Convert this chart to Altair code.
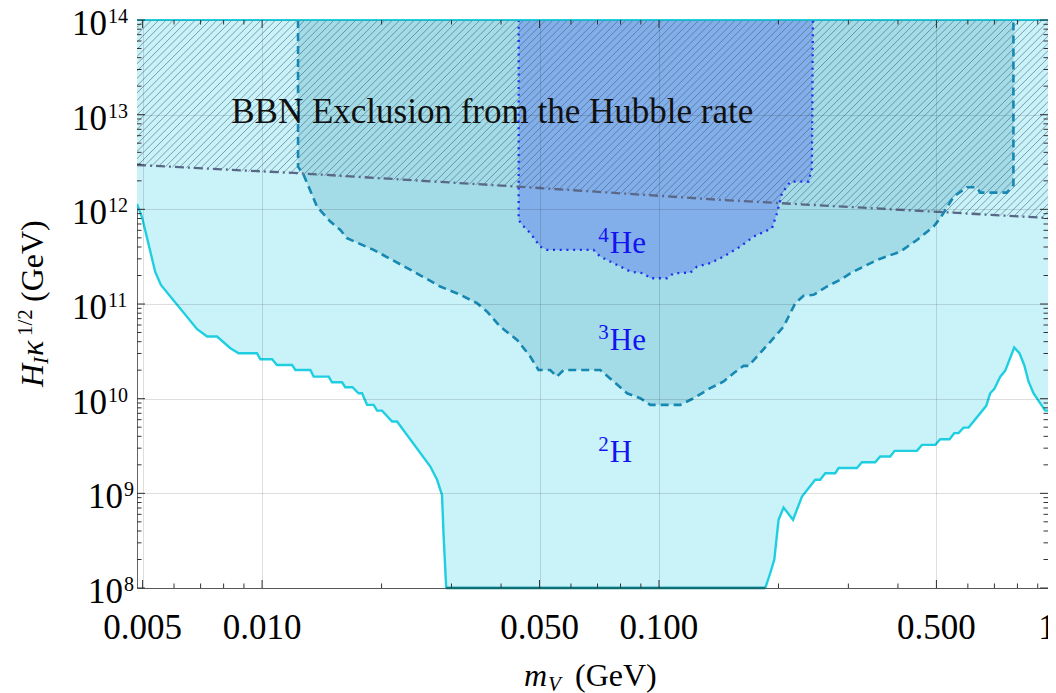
import math
import altair as alt
import pandas as pd

# ---------------- data ----------------
# 2H region: lower boundary (solid cyan); region extends up to the top of the plot
h2_mass = [0.00484, 0.00499, 0.00538, 0.00556, 0.00686, 0.00727, 0.0077, 0.00832, 0.00873, 0.00971,
           0.0099, 0.0106, 0.0109, 0.0119, 0.01213, 0.01323, 0.01349, 0.01472, 0.0150, 0.0159,
           0.0162, 0.01689, 0.0175, 0.01786, 0.01839, 0.0191, 0.01949, 0.02006, 0.02126, 0.02188,
           0.02654, 0.0276, 0.0284, 0.02867, 0.0291, 0.1853, 0.1907, 0.1952, 0.2001, 0.206,
           0.2176, 0.2292, 0.2475, 0.2548, 0.2624, 0.278, 0.2835, 0.3152, 0.3246, 0.3505,
           0.3608, 0.3825, 0.3923, 0.4467, 0.4597, 0.4966, 0.5112, 0.5395, 0.5544, 0.5683,
           0.5853, 0.6026, 0.6675, 0.683, 0.699, 0.7241, 0.7454, 0.7852, 0.8096, 0.8321,
           0.8531, 0.878, 0.9397, 0.9674, 1.0]
h2_H = [1.14e12, 8.1e11, 2.18e11, 1.59e11, 5.42e10, 4.53e10, 4.53e10, 3.41e10, 3.02e10, 3.02e10,
        2.61e10, 2.61e10, 2.27e10, 2.27e10, 2.01e10, 2.01e10, 1.71e10, 1.71e10, 1.49e10, 1.49e10,
        1.32e10, 1.32e10, 1.14e10, 1.14e10, 8.6e9, 8.6e9, 7.48e9, 7.48e9, 5.73e9, 5.73e9,
        1.92e9, 1.39e9, 9.6e8, 3.5e8, 1e8, 1e8, 1.44e8, 1.99e8, 5.25e8, 7.08e8,
        5.25e8, 9.25e8, 1.39e9, 1.39e9, 1.63e9, 1.63e9, 1.85e9, 1.85e9, 2.13e9, 2.13e9,
        2.45e9, 2.45e9, 2.81e9, 2.81e9, 3.25e9, 3.25e9, 3.73e9, 3.73e9, 4.32e9, 4.32e9,
        4.95e9, 4.95e9, 8.4e9, 1.14e10, 1.26e10, 1.71e10, 1.98e10, 3.47e10, 3.02e10, 2.27e10,
        1.52e10, 1.14e10, 7.48e9, 7.48e9, 6.3e9]

# 3He region: dashed boundary
he3_mass = [0.01232, 0.01232, 0.01273, 0.01375, 0.01486, 0.01575, 0.01637, 0.0191, 0.02409, 0.02812,
            0.0316, 0.0348, 0.0369, 0.0398, 0.0439, 0.0474, 0.0497, 0.0532, 0.0553, 0.0575,
            0.0711, 0.0768, 0.0831, 0.0897, 0.0951, 0.1131, 0.1223, 0.1346, 0.1455, 0.1541,
            0.1633, 0.1681, 0.1781, 0.1926, 0.206, 0.2205, 0.2313, 0.2451, 0.2649, 0.2862,
            0.3033, 0.354, 0.4054, 0.4467, 0.4917, 0.5112, 0.5523, 0.5969, 0.6324, 0.6445,
            0.7523, 0.7816, 0.7816]
he3_H = [1e14, 2.82e12, 2.31e12, 1.07e12, 7.42e11, 6.06e11, 4.95e11, 3.73e11, 2.2e11, 1.53e11,
         1.25e11, 1.02e11, 8.3e10, 5.77e10, 4.18e10, 2.78e10, 2.01e10, 2.01e10, 1.71e10, 2.01e10,
         2.01e10, 1.52e10, 1.14e10, 1.01e10, 8.6e9, 8.6e9, 1.01e10, 1.29e10, 1.52e10, 1.86e10,
         2.22e10, 2.22e10, 2.9e10, 4.18e10, 5.77e10, 1.02e11, 1.22e11, 1.25e11, 1.53e11, 1.8e11,
         2.11e11, 2.92e11, 3.57e11, 4.75e11, 6.57e11, 8.06e11, 1.36e12, 1.71e12, 1.71e12, 1.5e12,
         1.5e12, 1.81e12, 1e14]

# 4He region: dotted boundary
he4_mass = [0.0443, 0.0443, 0.0452, 0.0474, 0.0502, 0.0522, 0.0684, 0.0711, 0.0768, 0.0847,
            0.0915, 0.0951, 0.1047, 0.1088, 0.12, 0.1247, 0.1346, 0.1455, 0.1603, 0.1731,
            0.1926, 0.1983, 0.2041, 0.2142, 0.2381, 0.2428, 0.2442]
he4_H = [1e14, 7.73e11, 6.84e11, 5.6e11, 4.04e11, 3.73e11, 3.73e11, 3.17e11, 2.7e11, 2.2e11,
         2.11e11, 1.87e11, 1.87e11, 2.11e11, 2.15e11, 2.48e11, 2.7e11, 3.17e11, 4.04e11, 5.15e11,
         6.31e11, 9.1e11, 1.48e12, 1.96e12, 1.96e12, 2.72e12, 1e14]

# BBN exclusion from the Hubble rate (dash-dot line, hatched above)
bbn_mass = [0.00484, 0.0123, 0.0439, 0.1427, 0.4917, 1.0]
bbn_H = [2.94e12, 2.41e12, 1.74e12, 1.26e12, 9.46e11, 8.0e11]

# axis ticks / labels
x_major = [0.005, 0.01, 0.05, 0.1, 0.5, 1.0]
x_labels = ["0.005", "0.010", "0.050", "0.100", "0.500", "1"]
x_minor = [0.006, 0.007, 0.008, 0.009, 0.02, 0.03, 0.04, 0.06, 0.07, 0.08, 0.09,
           0.2, 0.3, 0.4, 0.6, 0.7, 0.8, 0.9]
y_major = [1e8, 1e9, 1e10, 1e11, 1e12, 1e13, 1e14]
y_exps = ["8", "9", "10", "11", "12", "13", "14"]
y_minor = [k * 10.0 ** e for e in range(8, 14) for k in range(2, 10)]

# region labels (anchor in data coordinates)
lab_mass = [0.0752, 0.0752, 0.0752]
lab_H = [3.46e11, 3.27e10, 2.16e9]
lab_base = ["He", "He", "H"]
lab_sup = ["4", "3", "2"]

bbn_text = "BBN Exclusion from the Hubble rate"
bbn_text_mass = 0.038
bbn_text_H = 8.2e12

# ---------------- layout ----------------
W, H = 911, 568
XMIN, XMAX = 0.00484, 0.9552
YMIN, YMAX = 1e8, 1e14
FONT = "Liberation Serif"

x_grid = [v for v in x_major if v <= XMAX]
xs = alt.Scale(type="log", domain=[XMIN, XMAX], nice=False)
ys = alt.Scale(type="log", domain=[YMIN, YMAX], nice=False)
x_axis = alt.Axis(values=x_grid, grid=True, labels=False, ticks=False, domain=False, title=None,
                  gridColor="#000000", gridOpacity=0.13, gridWidth=1, zindex=1)
y_axis = alt.Axis(values=y_major, grid=True, labels=False, ticks=False, domain=False, title=None,
                  gridColor="#000000", gridOpacity=0.13, gridWidth=1, zindex=1)


def X(f):
    return alt.X(f"{f}:Q", scale=xs, axis=x_axis)


def Y(f):
    return alt.Y(f"{f}:Q", scale=ys, axis=y_axis)


def region(m, h):
    return pd.DataFrame({"m": m, "H": h, "i": list(range(len(m))), "top": [YMAX] * len(m)})


d2, d3, d4 = region(h2_mass, h2_H), region(he3_mass, he3_H), region(he4_mass, he4_H)
dbbn = pd.DataFrame({"m": bbn_mass, "H": bbn_H, "i": list(range(len(bbn_mass)))})

layers = []
# filled regions
layers.append(alt.Chart(d2).mark_area(color="#c9f3f8", clip=True).encode(x=X("m"), y=Y("H"), y2="top:Q"))
layers.append(alt.Chart(d3).mark_area(color="#a3dce6", clip=True).encode(x=X("m"), y=Y("H"), y2="top:Q"))
layers.append(alt.Chart(d4).mark_area(color="#82aeea", clip=True).encode(x=X("m"), y=Y("H"), y2="top:Q"))

# hatching above the BBN line
lx0, lx1 = math.log10(XMIN), math.log10(XMAX)
KX = W / (lx1 - lx0)
KY = H / (math.log10(YMAX) - math.log10(YMIN))
blx0, blx1 = math.log10(bbn_mass[0]), math.log10(bbn_mass[-1])
bly0, bly1 = math.log10(bbn_H[0]), math.log10(bbn_H[-1])
bb = (bly1 - bly0) / (blx1 - blx0)
ba = bly0 - bb * blx0
ltop = math.log10(YMAX)
step = 7.3 / KX
nlines = int(((lx1 - lx0) + 240 / KX) / step) + 2
hatch = (
    alt.Chart(alt.sequence(0, nlines, as_="k"))
    .transform_calculate(xt=f"{lx0} + datum.k * {step}")
    .transform_calculate(t=f"({ltop} - ({ba}) - ({bb}) * datum.xt) / ({1 / KY} - ({bb}) / {KX})")
    .transform_calculate(x1="pow(10, datum.xt)", y1=f"pow(10, {ltop})",
                         x2=f"pow(10, datum.xt - datum.t / {KX})",
                         y2=f"pow(10, {ltop} - datum.t / {KY})")
    .mark_rule(clip=True, color="#42607c", strokeWidth=0.9, opacity=0.65)
    .encode(x=X("x1"), x2="x2:Q", y=Y("y1"), y2="y2:Q")
)
layers.append(hatch)

# boundary lines
layers.append(alt.Chart(d2).mark_line(color="#1fcfe1", strokeWidth=2.4, clip=True)
              .encode(x=X("m"), y=Y("H"), order="i:Q"))
layers.append(alt.Chart(d2).transform_filter(f"datum.H <= {YMIN}")
              .mark_line(color="#11787f", strokeWidth=2.5)
              .encode(x=X("m"), y=Y("H"), order="i:Q"))
layers.append(alt.Chart(d3).mark_line(color="#1787b3", strokeWidth=2.6, strokeDash=[8, 5], clip=True)
              .encode(x=X("m"), y=Y("H"), order="i:Q"))
layers.append(alt.Chart(d4).mark_line(color="#1c30ee", strokeWidth=2.3, strokeDash=[2, 4.7], clip=True)
              .encode(x=X("m"), y=Y("H"), order="i:Q"))
layers.append(alt.Chart(dbbn).mark_line(color="#5a6888", strokeWidth=2.3, strokeDash=[9, 4, 2, 4], clip=True)
              .encode(x=X("m"), y=Y("H"), order="i:Q"))

one = alt.Data(values=[{"t": ""}])
# top edge of the 2H region
layers.append(alt.Chart(one).mark_rule(color="#22cfe0", strokeWidth=2)
              .encode(x=alt.value(0), x2=alt.value(W), y=alt.value(0)))

# ticks (inward, all four sides)
TC = "#333333"
dxmaj = pd.DataFrame({"v": x_major, "lab": x_labels})
dxmaj_in = dxmaj[dxmaj["v"] <= XMAX]
dxmaj_out = dxmaj[dxmaj["v"] > XMAX]
dxmin = pd.DataFrame({"v": x_minor})
dymaj = pd.DataFrame({"v": y_major, "e": y_exps})
dymin = pd.DataFrame({"v": y_minor})
for dfx, ln in ((dxmaj_in, 8), (dxmin, 4.5)):
    layers.append(alt.Chart(dfx).mark_rule(color=TC, strokeWidth=1)
                  .encode(x=X("v"), y=alt.value(H), y2=alt.value(H - ln)))
    layers.append(alt.Chart(dfx).mark_rule(color=TC, strokeWidth=1)
                  .encode(x=X("v"), y=alt.value(0), y2=alt.value(ln)))
for dfy, ln in ((dymaj, 8), (dymin, 4.5)):
    layers.append(alt.Chart(dfy).mark_rule(color=TC, strokeWidth=1)
                  .encode(y=Y("v"), x=alt.value(0), x2=alt.value(ln)))
    layers.append(alt.Chart(dfy).mark_rule(color=TC, strokeWidth=1)
                  .encode(y=Y("v"), x=alt.value(W), x2=alt.value(W - ln)))

# x tick labels
layers.append(alt.Chart(dxmaj_in).mark_text(font=FONT, fontSize=35, align="center", baseline="alphabetic",
                                            color="#000000")
              .encode(x=X("v"), y=alt.value(H + 51), text="lab:N"))
# the label at 1 sits on the right edge and is cut there, as in the reference
layers.append(alt.Chart(dxmaj_out).mark_text(font=FONT, fontSize=35, align="center", baseline="alphabetic",
                                             color="#000000")
              .encode(x=alt.value(W - 1), y=alt.value(H + 51), text="lab:N"))

# y tick labels: 10 with superscript exponent
for cond, xpos in (("length(datum.e) == 1", -14), ("length(datum.e) == 2", -30)):
    layers.append(alt.Chart(dymaj).transform_filter(cond)
                  .mark_text(font=FONT, fontSize=35, align="right", baseline="alphabetic", dy=15,
                             color="#000000")
                  .encode(x=alt.value(xpos), y=Y("v"), text=alt.value("10")))
    layers.append(alt.Chart(dymaj).transform_filter(cond)
                  .mark_text(font=FONT, fontSize=20, align="left", baseline="alphabetic", dy=3,
                             color="#000000")
                  .encode(x=alt.value(xpos + 1), y=Y("v"), text="e:N"))

# region labels
dlab = pd.DataFrame({"m": lab_mass, "H": lab_H, "base": lab_base, "sup": lab_sup})
LC = "#1414f0"
layers.append(alt.Chart(dlab).mark_text(font=FONT, fontSize=31, align="left", baseline="alphabetic",
                                        color=LC)
              .encode(x=X("m"), y=Y("H"), text="base:N"))
layers.append(alt.Chart(dlab).mark_text(font=FONT, fontSize=21, align="right", baseline="alphabetic",
                                        color=LC, dx=-1, dy=-11)
              .encode(x=X("m"), y=Y("H"), text="sup:N"))

# BBN text
dbt = pd.DataFrame({"m": [bbn_text_mass], "H": [bbn_text_H], "t": [bbn_text]})
layers.append(alt.Chart(dbt).mark_text(font=FONT, fontSize=35, align="center", baseline="alphabetic",
                                       color="#111111")
              .encode(x=X("m"), y=Y("H"), text="t:N"))


def piece(text, x, y, size, italic=False, angle=0):
    return (alt.Chart(alt.Data(values=[{"t": text}]))
            .mark_text(font=FONT, fontSize=size, fontStyle="italic" if italic else "normal",
                       align="left", baseline="alphabetic", angle=angle, color="#000000")
            .encode(x=alt.value(x), y=alt.value(y), text="t:N"))


# x-axis title: m_V (GeV)
layers.append(piece("m", 387, H + 98, 32, italic=True))
layers.append(piece("V", 411, H + 103, 21, italic=True))
layers.append(piece("(GeV)", 438, H + 98, 32))
# y-axis title: H_I kappa^{1/2} (GeV)
layers.append(piece("H", -94, 367, 32, italic=True, angle=270))
layers.append(piece("I", -89, 344, 21, italic=True, angle=270))
layers.append(piece("κ", -94, 336, 32, italic=True, angle=270))
layers.append(piece("1/2", -105, 316, 21, angle=270))
layers.append(piece("(GeV)", -94, 282, 32, angle=270))

chart = (
    alt.layer(*layers)
    .properties(width=W, height=H, autosize=alt.AutoSizeParams(type="none"),
                padding={"left": 129, "top": 12, "right": 0, "bottom": 105},
                background="#ffffff")
    .configure_view(stroke="#666666", strokeWidth=1)
)

chart.save("out.html", embed_options={"renderer": "svg", "actions": False})
